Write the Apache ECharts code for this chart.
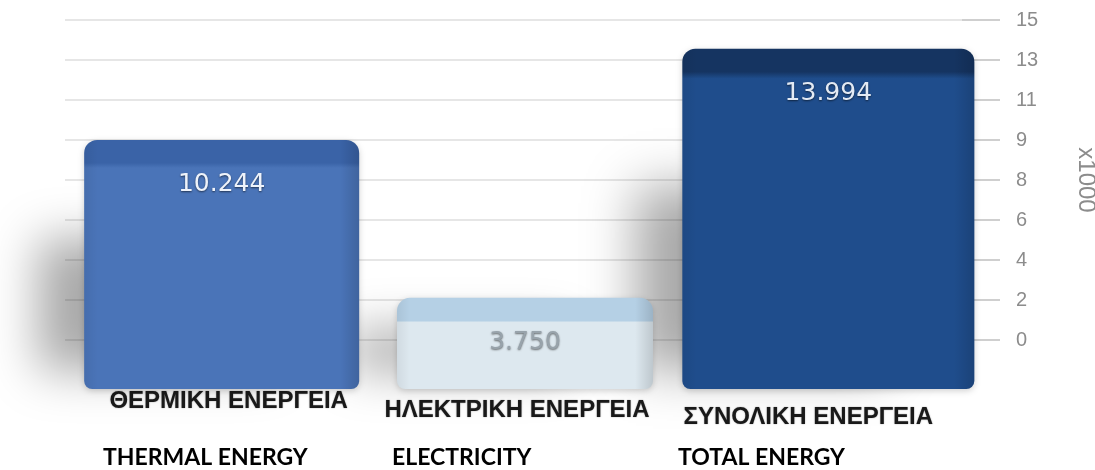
<!DOCTYPE html>
<html>
<head>
<meta charset="utf-8">
<script src="https://cdn.jsdelivr.net/npm/echarts@6/dist/echarts.min.js"></script>
<style>
  html, body { margin: 0; padding: 0; background: #ffffff; }
  #chart { width: 1095px; height: 470px; }
</style>
</head>
<body>
<div id="chart"></div>
<script>
// Energy totals (thousands)
const categoriesGr = ['ΘΕΡΜΙΚΗ ΕΝΕΡΓΕΙΑ', 'ΗΛΕΚΤΡΙΚΗ ΕΝΕΡΓΕΙΑ', 'ΣΥΝΟΛΙΚΗ ΕΝΕΡΓΕΙΑ'];
const categoriesEn = ['THERMAL ENERGY', 'ELECTRICITY', 'TOTAL ENERGY'];
const energyValues = [10.244, 3.750, 13.994];
const tickLabels = ['0', '2', '4', '6', '8', '9', '11', '13', '15'];

// Styling per bar
const barWidths = [275, 256, 292];
const barColors = [
  { top: '#3a63a7', body: '#4a74b8', text: '#eef3fb' },
  { top: '#b5d0e5', body: '#dde8ef', text: '#98a3ab' },
  { top: '#153461', body: '#1f4d8c', text: '#e3eaf4' }
];
const labelNudge = [[7, 0], [-8, 9], [-20, 16]];
const englishLeft = [103, 392, 678];

const chart = echarts.init(document.getElementById('chart'));

const richGreek = {};
labelNudge.forEach(function (n, i) {
  richGreek['c' + i] = {
    fontFamily: 'Liberation Sans, Arial, sans-serif',
    fontWeight: 'bold',
    fontSize: 24,
    color: '#1a1a1a',
    textShadowColor: 'rgba(0,0,0,0.4)',
    textShadowBlur: 1.5,
    padding: [n[1], n[0] < 0 ? -2 * n[0] : 0, 0, n[0] > 0 ? 2 * n[0] : 0]
  };
});

// Each bar: a soft cast shadow to the lower left, the block with a darker
// top face, edge shading and the value printed near the top.
function renderBar(params, api) {
  const idx = api.value(0);
  const val = api.value(1);
  const topPt = api.coord([idx, val]);
  const basePt = api.coord([idx, 0]);
  const w = barWidths[idx];
  const x = topPt[0] - w / 2;
  const y = topPt[1];
  const h = basePt[1] - topPt[1];
  const c = barColors[idx];
  const strip = Math.min(0.25, 23 / h);
  const shadowTop = y + h * 0.42;
  return {
    type: 'group',
    children: [
      {
        type: 'rect',
        z2: 0,
        shape: { x: x + 20, y: shadowTop, width: w - 40, height: basePt[1] - shadowTop - 12 },
        style: {
          fill: 'rgba(90,90,90,1)',
          shadowBlur: 48,
          shadowColor: 'rgba(0,0,0,0.34)',
          shadowOffsetX: -66,
          shadowOffsetY: -6
        }
      },
      {
        type: 'rect',
        z2: 10,
        shape: { x: x, y: y, width: w, height: h, r: [13, 13, 8, 8] },
        style: {
          fill: new echarts.graphic.LinearGradient(0, 0, 0, 1, [
            { offset: 0, color: c.top },
            { offset: strip, color: c.top },
            { offset: strip + 0.02, color: c.body },
            { offset: 1, color: c.body }
          ]),
          shadowBlur: 6,
          shadowColor: 'rgba(0,0,0,0.18)',
          shadowOffsetY: 2
        }
      },
      {
        type: 'rect',
        z2: 11,
        shape: { x: x, y: y, width: w, height: h, r: [13, 13, 8, 8] },
        style: {
          fill: new echarts.graphic.LinearGradient(0, 0, 1, 0, [
            { offset: 0, color: 'rgba(0,0,0,0.06)' },
            { offset: 0.05, color: 'rgba(0,0,0,0)' },
            { offset: 0.93, color: 'rgba(0,0,0,0)' },
            { offset: 1, color: 'rgba(0,0,0,0.14)' }
          ])
        }
      },
      {
        type: 'text',
        z2: 12,
        style: {
          text: val.toFixed(3),
          x: topPt[0],
          y: y + 45,
          align: 'center',
          verticalAlign: 'middle',
          font: '25px "DejaVu Sans", "Liberation Sans", sans-serif',
          fill: c.text,
          textShadowColor: 'rgba(0,0,0,0.55)',
          textShadowBlur: 2,
          textShadowOffsetY: 1
        }
      }
    ]
  };
}

chart.setOption({
  backgroundColor: '#ffffff',
  animation: false,
  grid: [
    { left: 65, width: 935, top: 20, height: 320, containLabel: false, outerBoundsMode: 'none' },
    { left: 70, width: 910, top: 0, height: 389, containLabel: false, outerBoundsMode: 'none' }
  ],
  xAxis: [
    { type: 'value', gridIndex: 0, show: false, min: 0, max: 1 },
    {
      type: 'category',
      gridIndex: 1,
      data: categoriesGr,
      axisLine: { show: false },
      axisTick: { show: false },
      axisLabel: {
        margin: 0,
        formatter: function (v, i) { return '{c' + i + '|' + v + '}'; },
        rich: richGreek
      }
    }
  ],
  yAxis: [
    {
      type: 'value',
      gridIndex: 0,
      position: 'right',
      min: 0,
      max: 8,
      interval: 1,
      axisLine: { show: false, onZero: false },
      axisTick: { show: true, inside: true, length: 38, lineStyle: { color: '#cfcfcf', width: 2 } },
      splitLine: { show: true, lineStyle: { color: '#e6e6e6', width: 2 } },
      axisLabel: {
        margin: 16,
        color: '#8c8c8c',
        fontSize: 20,
        fontFamily: 'Liberation Sans, Arial, sans-serif',
        formatter: function (v) { return tickLabels[v]; }
      },
      name: 'x1000',
      nameLocation: 'middle',
      nameRotate: -90,
      nameGap: 74,
      nameTextStyle: { color: '#8c8c8c', fontSize: 24, fontFamily: 'Liberation Sans, Arial, sans-serif' }
    },
    { type: 'value', gridIndex: 1, show: false, min: 0, max: 16 }
  ],
  series: [
    {
      type: 'custom',
      xAxisIndex: 1,
      yAxisIndex: 1,
      renderItem: renderBar,
      encode: { x: 0, y: 1 },
      data: energyValues.map(function (v, i) { return [i, v]; }),
      z: 3
    }
  ],
  graphic: categoriesEn.map(function (t, i) {
    return {
      type: 'text',
      left: englishLeft[i],
      top: 446,
      style: {
        text: t,
        font: 'bold 23px Lato, "Open Sans", sans-serif',
        fill: '#000000'
      }
    };
  })
});
</script>
</body>
</html>
